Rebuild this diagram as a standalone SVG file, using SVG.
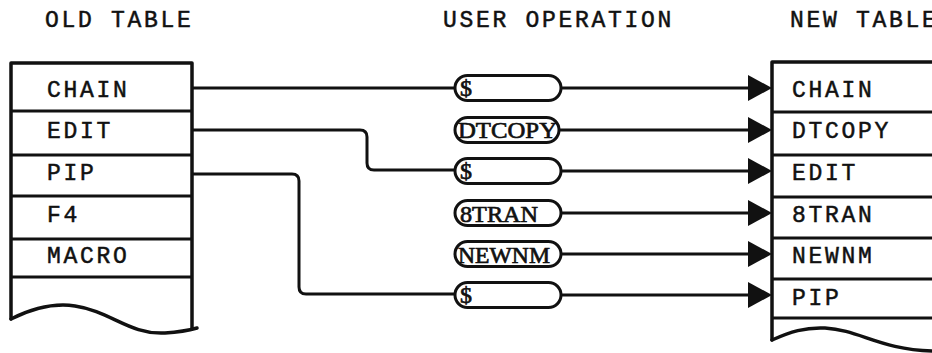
<svg xmlns="http://www.w3.org/2000/svg" width="932" height="353" viewBox="0 0 932 353">
<style>
  .mono { font-family: "Liberation Mono", "DejaVu Sans Mono", monospace; font-size: 23px; letter-spacing: 2.7px; fill: #111; stroke: #111; stroke-width: 0.5; }
  .cap { font-family: "Liberation Serif", "DejaVu Serif", serif; font-size: 24px; fill: #111; stroke: #111; stroke-width: 0.7; }
  .box { fill: none; stroke: #111; stroke-width: 3.5; stroke-linejoin: round; stroke-linecap: round; }
  .row { fill: none; stroke: #111; stroke-width: 3; }
  .pill { fill: #fff; stroke: #111; stroke-width: 3; }
  .wire { fill: none; stroke: #111; stroke-width: 3; }
  .head { fill: #111; stroke: none; }
</style>
<rect width="932" height="353" fill="#fff"/>

<g id="titles">
  <text class="mono" x="45" y="27">OLD TABLE</text>
  <text class="mono" x="443" y="27">USER OPERATION</text>
  <text class="mono" x="790" y="27">NEW TABLE</text>
</g>

<g id="connectors">
  <path class="wire" d="M192,88 H455"/>
  <path class="wire" d="M192,130 H360 Q367,130 367,137 V163 Q367,170 374,170 H455"/>
  <path class="wire" d="M192,174 H292 Q299,174 299,181 V287 Q299,294 306,294 H455"/>
  <path class="wire" d="M561,88 H752"/>
  <path class="wire" d="M559,130 H752"/>
  <path class="wire" d="M561,171 H752"/>
  <path class="wire" d="M561,213 H752"/>
  <path class="wire" d="M561,254 H752"/>
  <path class="wire" d="M561,295 H752"/>
  <path class="head" d="M748,75 L772,88 L748,101 Z"/>
  <path class="head" d="M748,117 L772,130 L748,143 Z"/>
  <path class="head" d="M748,158 L772,171 L748,184 Z"/>
  <path class="head" d="M748,200 L772,213 L748,226 Z"/>
  <path class="head" d="M748,241 L772,254 L748,267 Z"/>
  <path class="head" d="M748,282 L772,295 L748,308 Z"/>
</g>

<g id="old-table">
  <path class="box" d="M11,319 V63 H192 V328"/>
  <path class="box" d="M11,319 C35,307 55,303 75,306 C110,311 130,335 165,333 C180,332 190,330 197,328"/>
  <path class="row" d="M11,111 H192 M11,155 H192 M11,196 H192 M11,239 H192 M11,277 H192"/>
  <text class="mono" x="47" y="97">CHAIN</text>
  <text class="mono" x="47" y="138">EDIT</text>
  <text class="mono" x="47" y="180">PIP</text>
  <text class="mono" x="47" y="222">F4</text>
  <text class="mono" x="47" y="263">MACRO</text>
</g>

<g id="op-1">
  <rect class="pill" x="455" y="75.5" width="106" height="25" rx="12.5"/>
  <text class="cap" x="460" y="96">$</text>
</g>
<g id="op-2">
  <rect class="pill" x="455" y="117.5" width="104" height="25" rx="12.5"/>
  <text class="cap" x="458" y="138" textLength="99" lengthAdjust="spacingAndGlyphs">DTCOPY</text>
</g>
<g id="op-3">
  <rect class="pill" x="455" y="158.5" width="106" height="25" rx="12.5"/>
  <text class="cap" x="460" y="179">$</text>
</g>
<g id="op-4">
  <rect class="pill" x="455" y="200.5" width="106" height="25" rx="12.5"/>
  <text class="cap" x="460" y="221.5" textLength="78" lengthAdjust="spacingAndGlyphs">8TRAN</text>
</g>
<g id="op-5">
  <rect class="pill" x="455" y="241.5" width="106" height="25" rx="12.5"/>
  <text class="cap" x="458" y="262.5" textLength="92" lengthAdjust="spacingAndGlyphs">NEWNM</text>
</g>
<g id="op-6">
  <rect class="pill" x="455" y="282.5" width="106" height="25" rx="12.5"/>
  <text class="cap" x="460" y="303">$</text>
</g>

<g id="new-table">
  <path class="box" d="M772,340 V62 H934"/>
  <path class="box" d="M772,340 C790,332 805,327 825,328 C860,330 880,350 934,351"/>
  <path class="row" d="M772,112 H934 M772,155 H934 M772,197 H934 M772,238 H934 M772,279 H934 M772,318 H934"/>
  <text class="mono" x="792" y="97">CHAIN</text>
  <text class="mono" x="792" y="138">DTCOPY</text>
  <text class="mono" x="792" y="180">EDIT</text>
  <text class="mono" x="792" y="222">8TRAN</text>
  <text class="mono" x="792" y="263">NEWNM</text>
  <text class="mono" x="792" y="305">PIP</text>
</g>
</svg>
